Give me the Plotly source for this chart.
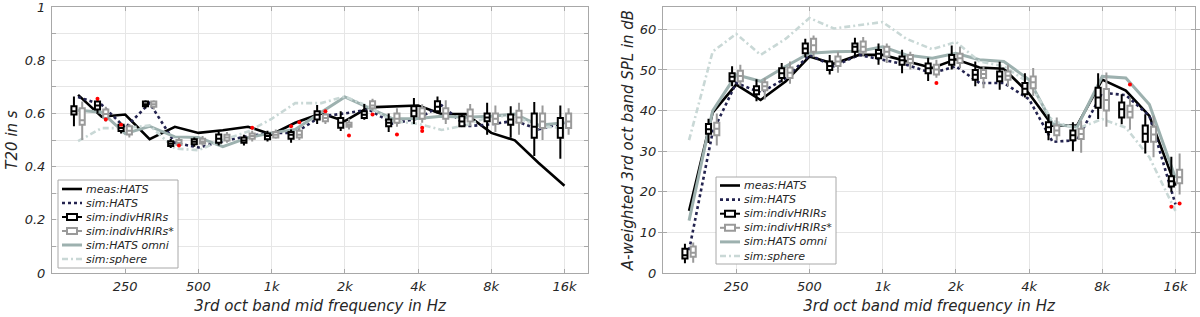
import numpy as np
import plotly.graph_objects as go

# ---------------- data ----------------
freqs = [160, 200, 250, 315, 400, 500, 630, 800, 1000, 1250, 1600,
         2000, 2500, 3150, 4000, 5000, 6300, 8000, 10000, 12500, 16000]
tick_vals = [250, 500, 1000, 2000, 4000, 8000, 16000]
tick_text = ["250", "500", "1k", "2k", "4k", "8k", "16k"]
series_names = ["meas:HATS", "sim:HATS", "sim:indivHRIRs", "sim:indivHRIRs*",
                "sim:HATS omni", "sim:sphere"]

# Left: T20 in s
t20_meas = [0.670, 0.588, 0.596, 0.503, 0.550, 0.527, 0.537, 0.550, 0.521, 0.565, 0.600,
            0.571, 0.623, 0.626, 0.630, 0.598, 0.598, 0.527, 0.499, 0.415, 0.328]
t20_simhats = [0.662, 0.633, 0.546, 0.639, 0.490, 0.472, 0.496, 0.515, 0.527, 0.527, 0.590,
               0.600, 0.615, 0.562, 0.581, 0.631, 0.552, 0.559, 0.573, 0.540, 0.565]
t20_omni = [0.612, 0.605, 0.524, 0.552, 0.512, 0.510, 0.475, 0.509, 0.527, 0.540, 0.605,
            0.662, 0.622, 0.580, 0.581, 0.590, 0.586, 0.590, 0.598, 0.556, 0.565]
t20_sphere = [0.496, 0.545, 0.545, 0.555, 0.468, 0.462, 0.500, 0.532, 0.580, 0.639, 0.639,
              0.664, 0.627, 0.571, 0.561, 0.538, 0.556, 0.590, 0.590, 0.550, 0.546]

# boxes: lower whisker, q1, median, q3, upper whisker
t20_b_lo = [0.552, 0.600, 0.525, 0.620, 0.470, 0.475, 0.480, 0.480, 0.495, 0.490, 0.560,
            0.534, 0.576, 0.530, 0.560, 0.600, 0.550, 0.520, 0.509, 0.440, 0.430]
t20_b_q1 = [0.596, 0.615, 0.534, 0.627, 0.478, 0.484, 0.490, 0.490, 0.503, 0.505, 0.577,
            0.546, 0.583, 0.552, 0.590, 0.608, 0.552, 0.571, 0.558, 0.509, 0.509]
t20_b_md = [0.608, 0.630, 0.545, 0.635, 0.486, 0.494, 0.505, 0.498, 0.515, 0.520, 0.595,
            0.565, 0.595, 0.565, 0.610, 0.625, 0.570, 0.585, 0.577, 0.550, 0.545]
t20_b_q3 = [0.627, 0.645, 0.558, 0.645, 0.496, 0.503, 0.521, 0.510, 0.525, 0.530, 0.608,
            0.583, 0.608, 0.577, 0.627, 0.646, 0.590, 0.600, 0.596, 0.600, 0.583]
t20_b_hi = [0.664, 0.652, 0.565, 0.650, 0.505, 0.510, 0.530, 0.520, 0.535, 0.540, 0.632,
            0.608, 0.636, 0.600, 0.658, 0.664, 0.600, 0.640, 0.627, 0.643, 0.630]

t20_g_lo = [0.500, 0.570, 0.510, 0.615, 0.475, 0.480, 0.490, 0.495, 0.505, 0.500, 0.560,
            0.540, 0.610, 0.550, 0.565, 0.560, 0.552, 0.530, 0.520, 0.500, 0.520]
t20_g_q1 = [0.558, 0.583, 0.521, 0.625, 0.482, 0.487, 0.498, 0.505, 0.510, 0.510, 0.571,
            0.550, 0.620, 0.565, 0.580, 0.580, 0.570, 0.560, 0.565, 0.545, 0.545]
t20_g_md = [0.575, 0.598, 0.535, 0.635, 0.490, 0.495, 0.510, 0.515, 0.520, 0.520, 0.583,
            0.557, 0.630, 0.580, 0.600, 0.600, 0.590, 0.580, 0.585, 0.570, 0.570]
t20_g_q3 = [0.620, 0.615, 0.552, 0.645, 0.500, 0.505, 0.520, 0.525, 0.530, 0.535, 0.596,
            0.565, 0.646, 0.600, 0.620, 0.620, 0.615, 0.600, 0.610, 0.600, 0.600]
t20_g_hi = [0.645, 0.625, 0.560, 0.650, 0.510, 0.515, 0.530, 0.535, 0.540, 0.545, 0.610,
            0.580, 0.655, 0.620, 0.635, 0.650, 0.636, 0.630, 0.640, 0.630, 0.620]

t20_out_b_f = [200, 250, 1250]
t20_out_b_v = [0.655, 0.558, 0.552]
t20_out_g_f = [200, 400, 800, 1250, 1600, 2000, 2500, 3150, 4000, 4000]
t20_out_g_v = [0.577, 0.480, 0.546, 0.567, 0.608, 0.517, 0.596, 0.521, 0.546, 0.534]

# Right: A-weighted SPL in dB
spl_meas = [15.3, 39.5, 46.4, 42.6, 47.2, 53.3, 51.5, 53.7, 53.7, 52.1, 50.5,
            52.6, 50.6, 50.3, 44.2, 36.3, 36.3, 47.6, 44.9, 38.7, 21.5]
spl_simhats = [5.6, 34.7, 46.8, 44.4, 48.0, 53.7, 50.9, 53.7, 52.5, 51.3, 49.2,
               50.9, 46.8, 46.8, 42.8, 32.3, 32.7, 44.4, 43.8, 38.7, 16.9]
spl_omni = [12.9, 39.9, 48.8, 47.2, 50.9, 54.1, 54.5, 54.6, 55.7, 53.7, 52.9,
            54.1, 52.5, 52.1, 47.6, 36.7, 35.9, 48.4, 48.0, 41.5, 23.4]
spl_sphere = [32.7, 54.5, 58.9, 53.7, 57.7, 62.8, 60.2, 61.0, 61.8, 57.7, 55.1,
              56.9, 52.1, 50.9, 46.8, 37.5, 35.5, 37.9, 35.8, 28.5, 15.3]

spl_b_lo = [2.4, 32.0, 46.0, 42.3, 47.0, 53.1, 48.9, 53.1, 51.3, 49.2, 47.3,
            50.1, 46.0, 45.1, 43.2, 32.7, 30.0, 37.9, 36.6, 29.4, 20.0]
spl_b_q1 = [3.6, 34.3, 47.2, 44.0, 48.0, 54.1, 50.0, 54.5, 52.9, 51.3, 49.2,
            51.3, 47.6, 47.2, 44.0, 34.7, 32.7, 40.7, 38.3, 32.3, 21.3]
spl_b_md = [4.4, 35.4, 48.3, 45.0, 49.2, 55.3, 51.0, 55.7, 54.0, 52.4, 50.4,
            52.5, 48.8, 48.4, 45.4, 35.9, 33.9, 43.2, 40.3, 34.3, 22.6]
spl_b_q3 = [6.0, 36.7, 49.2, 46.0, 50.4, 56.5, 52.1, 56.5, 54.9, 53.3, 51.6,
            53.7, 50.0, 49.6, 46.8, 37.1, 35.1, 45.6, 42.0, 36.3, 23.8]
spl_b_hi = [7.2, 38.0, 50.9, 47.7, 51.7, 57.7, 53.7, 57.9, 56.5, 55.0, 53.0,
            56.0, 52.1, 52.0, 49.2, 39.1, 37.1, 49.2, 44.0, 39.1, 28.6]

spl_g_lo = [2.5, 31.4, 46.0, 42.7, 46.6, 53.1, 49.3, 53.5, 51.7, 50.1, 48.1,
            50.5, 45.5, 46.0, 43.6, 32.7, 29.6, 36.0, 35.3, 28.5, 19.3]
spl_g_q1 = [4.0, 33.9, 47.2, 45.0, 48.0, 54.5, 51.0, 54.5, 53.3, 51.7, 48.9,
            51.7, 48.0, 47.6, 45.5, 33.9, 33.0, 40.0, 38.3, 32.3, 22.1]
spl_g_md = [5.0, 35.5, 48.5, 46.0, 49.3, 56.1, 52.1, 55.7, 54.5, 52.7, 50.1,
            52.9, 49.0, 48.6, 47.0, 35.1, 34.2, 42.6, 39.7, 34.1, 23.6]
spl_g_q3 = [6.5, 37.0, 49.8, 47.0, 50.6, 57.7, 53.3, 57.0, 55.7, 53.7, 51.3,
            54.0, 50.0, 49.6, 48.4, 36.3, 35.5, 45.3, 41.2, 36.0, 25.4]
spl_g_hi = [7.5, 39.3, 51.3, 48.0, 52.1, 58.5, 54.5, 58.1, 56.5, 54.5, 52.5,
            55.7, 50.9, 51.3, 50.5, 38.3, 37.5, 49.4, 43.2, 38.7, 29.4]

spl_out_b_f = [16000]
spl_out_b_v = [16.3]
spl_out_g_f = [1600, 10000, 16000]
spl_out_g_v = [46.8, 46.4, 17.1]

# ---------------- styling ----------------
FONT = "DejaVu Sans"
TXT = "#262626"
AXC = "#a8a8a8"
GRID = "#e6e6e6"
C_MEAS = "#000000"
C_SIMH = "#23234f"
C_BLK = "#000000"
C_GRY = "#9a9a9a"
C_OMNI = "#9db1af"
C_SPH = "#c9d8d6"
DASH_SPH = "6px,3px,2px,3px"
OFF = 0.017      # box offset from band centre (decades)
BW = 0.021       # box width (decades)

W, H = 1200, 317
XMIN = np.log10(125)
L_DOM = [52 / W, 588 / W]
R_DOM = [663 / W, 1195 / W]
Y_DOM = [1 - 273 / H, 1 - 7 / H]
L_XMAX = XMIN + (588 - 52) / 243.2
R_XMAX = XMIN + (1195 - 663) / 243.2

lf = np.log10(np.array(freqs, dtype=float))

fig = go.Figure()


def add_panel(meas, simh, omni, sph, b, g, ob_f, ob_v, og_f, og_v, xa, xo, ya):
    fig.add_trace(go.Scatter(x=freqs, y=meas, mode="lines", name=series_names[0],
                             line=dict(color=C_MEAS, width=2.6), xaxis=xa, yaxis=ya))
    fig.add_trace(go.Scatter(x=freqs, y=simh, mode="lines", name=series_names[1],
                             line=dict(color=C_SIMH, width=2.6, dash="dot"), xaxis=xa, yaxis=ya))
    for stats, col, nm, sgn in ((b, C_BLK, series_names[2], -1), (g, C_GRY, series_names[3], 1)):
        fig.add_trace(go.Box(x=lf + sgn * OFF, lowerfence=stats[0], q1=stats[1], median=stats[2],
                             q3=stats[3], upperfence=stats[4], name=nm, width=BW, whiskerwidth=0,
                             line=dict(color=col, width=2), fillcolor="white", boxpoints=False,
                             hoverinfo="skip", xaxis=xo, yaxis=ya))
    fig.add_trace(go.Scatter(x=freqs, y=omni, mode="lines", name=series_names[4],
                             line=dict(color=C_OMNI, width=3), xaxis=xa, yaxis=ya))
    fig.add_trace(go.Scatter(x=freqs, y=sph, mode="lines", name=series_names[5],
                             line=dict(color=C_SPH, width=2.6, dash=DASH_SPH), xaxis=xa, yaxis=ya))
    fig.add_trace(go.Scatter(x=np.log10(ob_f) - OFF, y=ob_v, mode="markers", name="outliers",
                             marker=dict(color="red", size=4), xaxis=xo, yaxis=ya))
    fig.add_trace(go.Scatter(x=np.log10(og_f) + OFF, y=og_v, mode="markers", name="outliers*",
                             marker=dict(color="red", size=4), xaxis=xo, yaxis=ya))


add_panel(t20_meas, t20_simhats, t20_omni, t20_sphere,
          (t20_b_lo, t20_b_q1, t20_b_md, t20_b_q3, t20_b_hi),
          (t20_g_lo, t20_g_q1, t20_g_md, t20_g_q3, t20_g_hi),
          t20_out_b_f, t20_out_b_v, t20_out_g_f, t20_out_g_v, "x", "x3", "y")
add_panel(spl_meas, spl_simhats, spl_omni, spl_sphere,
          (spl_b_lo, spl_b_q1, spl_b_md, spl_b_q3, spl_b_hi),
          (spl_g_lo, spl_g_q1, spl_g_md, spl_g_q3, spl_g_hi),
          spl_out_b_f, spl_out_b_v, spl_out_g_f, spl_out_g_v, "x2", "x4", "y2")

# ---------------- compact legend boxes (MATLAB style) ----------------
leg_styles = [
    dict(kind="line", color=C_MEAS, width=2.6, dash="solid"),
    dict(kind="line", color=C_SIMH, width=2.6, dash="dot"),
    dict(kind="box", color=C_BLK, width=2, dash="solid"),
    dict(kind="box", color=C_GRY, width=2, dash="solid"),
    dict(kind="line", color=C_OMNI, width=3, dash="solid"),
    dict(kind="line", color=C_SPH, width=2.6, dash=DASH_SPH),
]
shapes = []
annotations = []


def px(x):
    return x / W


def py(y):
    return 1 - y / H


def add_legend(x0, y0, w, h, row0, dy):
    shapes.append(dict(type="rect", xref="paper", yref="paper", x0=px(x0), x1=px(x0 + w),
                       y0=py(y0), y1=py(y0 + h), fillcolor="white",
                       line=dict(color=AXC, width=1), layer="above"))
    for i, (nm, st) in enumerate(zip(series_names, leg_styles)):
        yc = row0 + i * dy
        shapes.append(dict(type="line", xref="paper", yref="paper", x0=px(x0 + 4), x1=px(x0 + 24),
                           y0=py(yc), y1=py(yc), layer="above",
                           line=dict(color=st["color"], width=st["width"], dash=st["dash"])))
        if st["kind"] == "box":
            shapes.append(dict(type="rect", xref="paper", yref="paper", x0=px(x0 + 9), x1=px(x0 + 19),
                               y0=py(yc - 3), y1=py(yc + 3), fillcolor="white", layer="above",
                               line=dict(color=st["color"], width=st["width"])))
        annotations.append(dict(text=nm, xref="paper", yref="paper", x=px(x0 + 26), y=py(yc),
                                xanchor="left", yanchor="middle", showarrow=False,
                                font=dict(family=FONT, size=11, color=TXT, style="italic")))


add_legend(58, 180, 120, 88, 189, 14)
add_legend(716, 177, 120, 87, 185.5, 14.1)

tickfont = dict(family=FONT, size=13, color=TXT, style="italic")
titlefont = dict(family=FONT, size=15, color=TXT, style="italic")

xcommon = dict(type="log", tickvals=tick_vals, ticktext=tick_text, ticks="inside", ticklen=4,
               tickcolor=AXC, showline=True, linecolor=AXC, linewidth=1, mirror="allticks",
               showgrid=True, gridcolor=GRID, zeroline=False, tickfont=tickfont,
               automargin=False, ticklabelstandoff=1, ticklabeloverflow="allow",
               title=dict(text="3rd oct band mid frequency in Hz", font=titlefont, standoff=7))
ycommon = dict(ticks="inside", ticklen=4, tickcolor=AXC, showline=True, linecolor=AXC, linewidth=1,
               mirror="allticks", showgrid=True, gridcolor=GRID, zeroline=False, tickfont=tickfont,
               automargin=False, ticklabelstandoff=3, ticklabeloverflow="allow")
ovl = dict(type="linear", visible=False, showgrid=False, zeroline=False, fixedrange=True)

fig.update_layout(
    width=W, height=H, template="none", paper_bgcolor="white", plot_bgcolor="white",
    margin=dict(l=0, r=0, t=0, b=0), boxmode="overlay", showlegend=False,
    xaxis=dict(**xcommon, domain=L_DOM, range=[XMIN, L_XMAX], anchor="y"),
    xaxis2=dict(**xcommon, domain=R_DOM, range=[XMIN, R_XMAX], anchor="y2"),
    xaxis3=dict(**ovl, overlaying="x", anchor="y", range=[XMIN, L_XMAX]),
    xaxis4=dict(**ovl, overlaying="x2", anchor="y2", range=[XMIN, R_XMAX]),
    yaxis=dict(**ycommon, domain=Y_DOM, range=[0, 1.0005], dtick=0.2, anchor="x",
               minor=dict(dtick=0.1, showgrid=True, gridcolor=GRID, ticks="inside", ticklen=3, tickcolor=AXC),
               title=dict(text="T20 in s", font=titlefont, standoff=3)),
    yaxis2=dict(**ycommon, domain=Y_DOM, range=[0, 65.5], dtick=10, anchor="x2",
                title=dict(text="A-weighted 3rd oct band SPL in dB", font=titlefont, standoff=2)),
    shapes=shapes,
    annotations=annotations,
)

fig.write_html("out.html", config={"displayModeBar": False},
               post_script="document.body.style.margin='0';")
